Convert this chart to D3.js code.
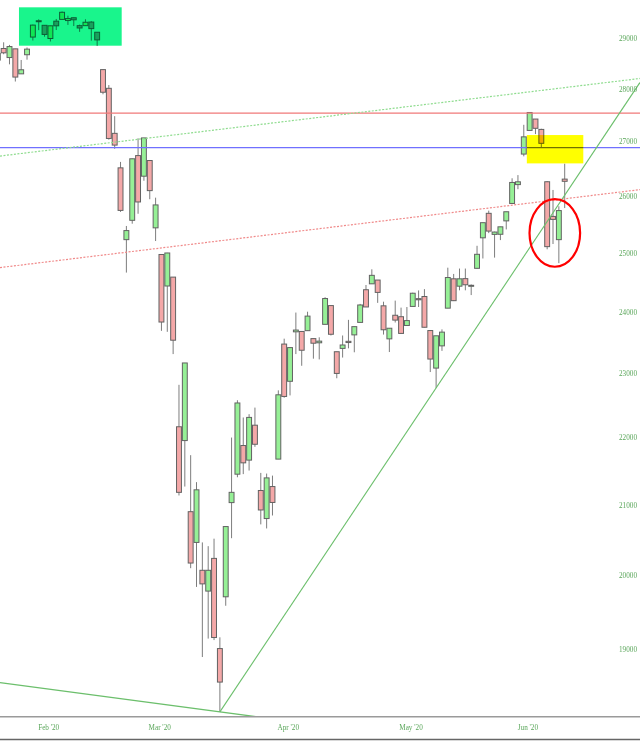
<!DOCTYPE html>
<html><head><meta charset="utf-8">
<script src="https://cdn.jsdelivr.net/npm/d3@7"></script>
<style>html,body{margin:0;padding:0;background:#fff;} svg{display:block}</style>
</head><body>
<svg id="chart" width="640" height="741"></svg>
<script>
// ---------- DATA ----------
const dates = [
"2020-01-28","2020-01-29","2020-01-30","2020-01-31",
"2020-02-03","2020-02-04","2020-02-05","2020-02-06","2020-02-07","2020-02-10","2020-02-11","2020-02-12","2020-02-13","2020-02-14","2020-02-18","2020-02-19","2020-02-20","2020-02-21","2020-02-24","2020-02-25","2020-02-26","2020-02-27","2020-02-28",
"2020-03-02","2020-03-03","2020-03-04","2020-03-05","2020-03-06","2020-03-09","2020-03-10","2020-03-11","2020-03-12","2020-03-13","2020-03-16","2020-03-17","2020-03-18","2020-03-19","2020-03-20","2020-03-23","2020-03-24","2020-03-25","2020-03-26","2020-03-27","2020-03-30","2020-03-31",
"2020-04-01","2020-04-02","2020-04-03","2020-04-06","2020-04-07","2020-04-08","2020-04-09","2020-04-13","2020-04-14","2020-04-15","2020-04-16","2020-04-17","2020-04-20","2020-04-21","2020-04-22","2020-04-23","2020-04-24","2020-04-27","2020-04-28","2020-04-29","2020-04-30",
"2020-05-01","2020-05-04","2020-05-05","2020-05-06","2020-05-07","2020-05-08","2020-05-11","2020-05-12","2020-05-13","2020-05-14","2020-05-15","2020-05-18","2020-05-19","2020-05-20","2020-05-21","2020-05-22","2020-05-26","2020-05-27","2020-05-28","2020-05-29",
"2020-06-01","2020-06-02","2020-06-03","2020-06-04","2020-06-05","2020-06-08","2020-06-09","2020-06-10","2020-06-11","2020-06-12","2020-06-15","2020-06-16"];

const opens = [
28590,28820,28640,28813,
28319,28696,29049,29361,29286,29020,29370,29406,29383,29440,29279,29279,29352,29146,28402,28037,27177,26536,25250,
25590,26762,26383,26671,25457,24992,24453,24604,22184,21973,20918,20478,20087,19800,20253,19028,19722,21050,21468,21898,21678,22208,
21227,20819,21285,21693,23490,22893,23690,23696,23709,23579,23511,23813,24124,23366,23420,23535,23640,23845,24390,24490,24554,
24120,23575,23963,23939,23794,24110,24240,24276,23711,23103,23461,24081,24575,24450,24578,24460,24754,25282,25714,25342,
25344,25580,25890,26230,26790,27232,27447,27251,26282,25659,25250,26330];

const highs = [
28760,28944,28892,28814,
28592,28840,29301,29408,29286,29277,29415,29568,29482,29441,29300,29409,29370,29146,28403,28100,27502,26645,25490,
26706,27084,27091,26671,25994,24992,25020,24604,22837,23185,21752,21350,20478,20425,20531,19177,20704,22019,22595,22327,22378,22480,
21487,21477,21447,22750,23578,23433,24008,23696,24022,23579,23600,24264,24124,23366,23630,23887,23775,24152,24470,24737,24554,
24189,23751,24207,24090,24100,24340,24378,24400,23712,23625,23730,24765,24658,24750,24750,24480,25143,25548,25762,25390,
25475,25742,26345,26403,27338,27580,27447,27264,26295,26133,25840,26611];

const lows = [
28530,28706,28506,28169,
28319,28598,28980,29188,29056,28960,29190,29406,29294,29271,29154,29279,28976,28870,27921,27058,26888,25739,24681,
25530,25706,26300,25966,25226,23706,23690,23328,21154,21285,20116,19857,18917,19160,19140,18213,19600,20538,21422,21469,21522,21878,
20735,20677,20863,21693,22634,22670,23328,23140,23709,23254,23242,23813,23630,22941,23272,23421,23357,23845,24101,24490,24169,
23645,23361,23843,23660,23794,24110,24100,23763,23040,22789,23380,24081,24200,24380,24380,24300,24750,24923,25364,24938,
25242,25429,25890,26147,26748,27232,27163,26920,25082,25174,24843,25808];

const closes = [
28723,28734,28859,28256,
28399,28807,29290,29379,29102,29276,29276,29551,29423,29398,29232,29348,29219,28992,27961,27081,26957,25766,25409,
26703,25917,27091,26121,25864,23851,25018,23553,21200,23185,20188,21237,19899,20087,19174,18592,20704,21200,22552,21637,22328,21917,
20943,21413,21052,22680,22654,23433,23719,23390,23949,23504,23538,24242,23650,23018,23475,23515,23775,24134,24101,24634,24345,
23724,23749,23883,23664,23875,24331,24221,23765,23248,23625,23685,24597,24206,24575,24474,24465,24995,25548,25400,25383,
25475,25742,26269,26281,27111,27572,27272,26990,25128,25606,25763,26290];

const yTickValues = [19000,20000,21000,22000,23000,24000,25000,26000,27000,28000,29000];
const monthTickDates = ["2020-02-03","2020-03-02","2020-04-01","2020-05-01","2020-06-01"];
const monthTickLabels = ["Feb '20","Mar '20","Apr '20","May '20","Jun '20"];

// horizontal levels
const levelValues = [27560, 26910];
const levelColors = ["#f07878", "#7070ff"];

// trend lines: two anchors each (date, value)
const trendAnchorsA = [["2020-02-26",27012],["2020-06-16",28051]]; // green dotted
const trendAnchorsB = [["2020-02-26",25007],["2020-06-16",25974]]; // red dotted
const trendAnchorsC = [["2020-03-23",18213],["2020-05-14",22789]]; // green rising support
const trendAnchorsD = [["2020-01-28",18590],["2020-03-23",18213]]; // green falling

// ---------- LAYOUT ----------
const W = 640, H = 741;
const plotBottom = 716.7;
const svg = d3.select("#chart");

const x = d3.scalePoint().domain(dates).range([-2.2, 564.7]);
const y = d3.scaleLog().domain([19000, 29000]).range([650.7, 39.5]);

const candles = dates.map((d,i)=>({d, o:opens[i], h:highs[i], l:lows[i], c:closes[i]}));

svg.append("defs").append("clipPath").attr("id","plotclip")
  .append("rect").attr("x",0).attr("y",0).attr("width",W).attr("height",plotBottom);

const plot = svg.append("g").attr("clip-path","url(#plotclip)");

// candles
const cg = plot.append("g");
cg.selectAll("line.wick").data(candles).join("line")
  .attr("class","wick")
  .attr("x1",d=>x(d.d)).attr("x2",d=>x(d.d))
  .attr("y1",d=>y(Math.max(d.h,d.o,d.c))).attr("y2",d=>y(Math.min(d.l,d.o,d.c)))
  .attr("stroke","#7d7d7d").attr("stroke-width",1);
const bw = 4.9;
cg.selectAll("rect.body").data(candles).join("rect")
  .attr("class","body")
  .attr("x",d=>x(d.d)-bw/2)
  .attr("y",d=>y(Math.max(d.o,d.c)))
  .attr("width",bw)
  .attr("height",d=>Math.max(1,Math.abs(y(d.o)-y(d.c))))
  .attr("fill",d=>d.c>=d.o?"#96f096":"#f4a8a8")
  .attr("stroke","#626262").attr("stroke-width",1);

// horizontal levels
levelValues.forEach((v,i)=>{
  plot.append("line").attr("x1",0).attr("x2",W).attr("y1",y(v)).attr("y2",y(v))
    .attr("stroke",levelColors[i]).attr("stroke-width",1.3);
});

function trend(anchors, color, dash, fromFirst, width){
  const x1=x(anchors[0][0]), y1=y(anchors[0][1]);
  const x2=x(anchors[1][0]), y2=y(anchors[1][1]);
  const s=(y2-y1)/(x2-x1);
  const xs = fromFirst ? x1 : 0;
  const xe = W;
  plot.append("line").attr("x1",xs).attr("y1",y1+(xs-x1)*s)
    .attr("x2",xe).attr("y2",y1+(xe-x1)*s)
    .attr("stroke",color).attr("stroke-width",width)
    .attr("stroke-dasharray",dash||null);
}
trend(trendAnchorsA,"#8fdc8f","2,1.5",false,1.2);
trend(trendAnchorsB,"#f08a8a","2,1.5",false,1.2);
trend(trendAnchorsC,"#6cbf6c",null,true,1.1);
trend(trendAnchorsD,"#6cbf6c",null,false,1.3);

// highlight boxes (multiply)
const boxes = [
  {from:"2020-02-03", to:"2020-02-26", top:29653, bottom:28876, padL:2.2, padR:7, color:"#19f58c"},
  {from:"2020-06-08", to:"2020-06-16", top:27145, bottom:26618, padL:2.8, padR:18.6, color:"#ffff00"}
];
boxes.forEach(b=>{
  svg.append("rect")
    .attr("x",x(b.from)-b.padL).attr("y",y(b.top))
    .attr("width",(x(b.to)+b.padR)-(x(b.from)-b.padL))
    .attr("height",y(b.bottom)-y(b.top))
    .attr("fill",b.color).style("mix-blend-mode","multiply");
});

// red ellipse
svg.append("ellipse")
  .attr("cx",x("2020-06-12")+1.8).attr("cy",y(25367))
  .attr("rx",25.3).attr("ry",33.8)
  .attr("fill","none").attr("stroke","#ff0000").attr("stroke-width",2.2);

// axes
svg.append("line").attr("x1",0).attr("x2",W).attr("y1",plotBottom).attr("y2",plotBottom)
  .attr("stroke","#9a9a9a").attr("stroke-width",1.5);
svg.append("line").attr("x1",0).attr("x2",W).attr("y1",739.5).attr("y2",739.5)
  .attr("stroke","#666").attr("stroke-width",1.5);

const labelFont = "'Liberation Serif', 'DejaVu Serif', serif";
const labelColor = "#5aa65a";

svg.append("g").selectAll("text").data(yTickValues).join("text")
  .attr("x",619).attr("y",d=>y(d))
  .attr("dominant-baseline","middle")
  .attr("font-family",labelFont).attr("font-size",7.2)
  .attr("fill",labelColor)
  .text(d=>d3.format("d")(d));

svg.append("g").selectAll("text").data(monthTickDates).join("text")
  .attr("x",d=>x(d)+27.5).attr("y",728.5)
  .attr("text-anchor","middle").attr("dominant-baseline","middle")
  .attr("font-family",labelFont).attr("font-size",7.2)
  .attr("fill",labelColor)
  .text((d,i)=>monthTickLabels[i]);
</script>
</body></html>
